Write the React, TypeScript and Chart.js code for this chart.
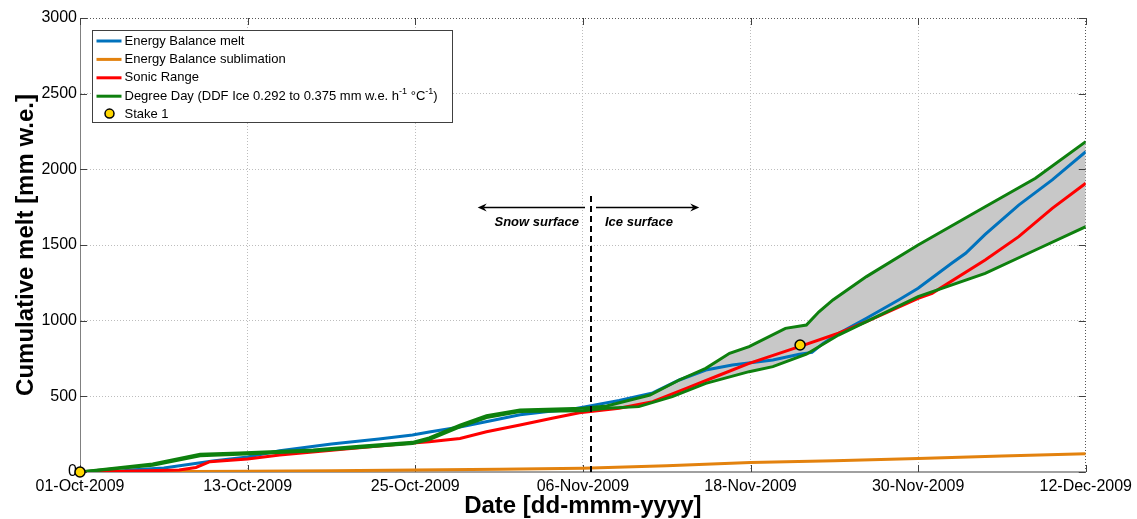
import React, { useEffect, useRef } from "react";
import { Chart, registerables } from "chart.js";
Chart.register(...registerables);

// ---- tick labels ----
const xTickLabels = ["01-Oct-2009", "13-Oct-2009", "25-Oct-2009", "06-Nov-2009", "18-Nov-2009", "30-Nov-2009", "12-Dec-2009"];
const legendLabels = ["Energy Balance melt", "Energy Balance sublimation", "Sonic Range", "Degree Day", "Stake 1"];

// ---- series (x = days since 01-Oct-2009, y = mm w.e.) ----
const ebMeltDays = [0, 2.4, 3.6, 6, 9.5, 12, 14.3, 18, 21.4, 23.8, 25, 27.2, 29.5, 31.5, 33.5, 35, 36.2, 38.6, 41, 42.9, 44.8, 46.7, 49.6, 51.5, 52.4, 53.2, 54.3, 56.3, 58.6, 60, 62.4, 63.4, 64.8, 67.2, 69.6, 72];
const ebMeltValues = [0, 0, 13, 26, 73, 99, 140, 185, 218, 244, 264, 297, 340, 378, 400, 412, 432, 472, 523, 608, 674, 707, 740, 778, 790, 850, 915, 1016, 1137, 1214, 1379, 1445, 1570, 1764, 1930, 2117];

const sublimationDays = [0, 8, 12, 18, 24, 30, 36, 42, 48, 54, 60, 66, 72];
const sublimationValues = [0, 3, 5, 8, 14, 18, 24, 42, 62, 74, 90, 105, 120];

const sonicDays = [0, 4, 7.1, 8.3, 9.3, 12, 14.3, 19, 23.8, 25, 27.2, 29.1, 31.5, 33.8, 35.75, 38.6, 41, 43.4, 45.8, 47.9, 51.5, 54.3, 56.3, 60, 61, 64.8, 67.2, 69.6, 72];
const sonicValues = [0, 6, 13, 30, 68, 86, 112, 152, 191, 200, 222, 266, 311, 355, 392, 421, 465, 553, 641, 718, 828, 917, 993, 1148, 1181, 1401, 1555, 1742, 1908];

const ddHighDays = [0, 5.2, 8.6, 11.4, 16.7, 20, 23.8, 25, 27.2, 29.1, 31.5, 36, 37.7, 40.8, 42.9, 44.8, 46.5, 47.9, 50.5, 52, 52.9, 53.9, 56.3, 60, 64.8, 68.4, 72];
const ddHighValues = [0, 53, 117, 125, 145, 170, 196, 225, 310, 372, 410, 422, 436, 509, 608, 685, 784, 828, 949, 971, 1059, 1137, 1291, 1500, 1753, 1941, 2183];

const ddLowDays = [0, 5.2, 8.6, 11.4, 16.7, 20, 23.8, 25, 27.2, 29.1, 31.5, 36, 37.7, 40, 42.4, 44.8, 47.9, 49.6, 52, 54.3, 60, 64.8, 68.4, 72];
const ddLowValues = [0, 45, 108, 118, 138, 162, 188, 215, 298, 360, 400, 405, 421, 432, 498, 586, 663, 696, 778, 905, 1159, 1313, 1467, 1621];

const stakeDays = [0, 51.55];
const stakeValues = [0, 839];

// ---- annotation anchors (data units) ----
const transitionDay = 36.58;
const transitionTop = 1824;
const arrowLevel = 1749;
const snowArrowEnd = 28.47;
const iceArrowEnd = 44.33;

const FONT = '"Liberation Sans", Arial, Helvetica, sans-serif';
const BLUE = "#0072BD";
const ORANGE = "#E3820E";
const RED = "#FF0000";
const GREEN = "#0E800E";
const YELLOW = "#FFD700";

const pts = (xs: number[], ys: number[]) => xs.map((x, i) => ({ x, y: ys[i] }));

const innerTicks = {
  id: "innerTicks",
  beforeDatasetsDraw(chart: any) {
    const { ctx, chartArea: a, scales } = chart;
    const x = scales.x, y = scales.y;
    const L = 7;
    ctx.save();
    ctx.strokeStyle = "#404040";
    ctx.lineWidth = 1;
    ctx.beginPath();
    for (let v = 0; v <= 72; v += 12) {
      const px = Math.round(x.getPixelForValue(v)) + 0.5;
      ctx.moveTo(px, a.bottom); ctx.lineTo(px, a.bottom - L);
      ctx.moveTo(px, a.top); ctx.lineTo(px, a.top + L);
    }
    for (let v = 0; v <= 3000; v += 500) {
      const py = Math.round(y.getPixelForValue(v)) + 0.5;
      ctx.moveTo(a.left, py); ctx.lineTo(a.left + L, py);
      ctx.moveTo(a.right, py); ctx.lineTo(a.right - L, py);
    }
    ctx.stroke();
    ctx.restore();
  },
};

const arrow = (ctx: any, x0: number, x1: number, y: number) => {
  const dir = x1 > x0 ? 1 : -1;
  ctx.beginPath();
  ctx.moveTo(x0, y);
  ctx.lineTo(x1 - dir * 6, y);
  ctx.stroke();
  ctx.beginPath();
  ctx.moveTo(x1, y);
  ctx.lineTo(x1 - dir * 9, y - 4);
  ctx.lineTo(x1 - dir * 6, y);
  ctx.lineTo(x1 - dir * 9, y + 4);
  ctx.closePath();
  ctx.fill();
};

const surfaceAnnotation = {
  id: "surfaceAnnotation",
  afterDatasetsDraw(chart: any) {
    const { ctx, scales } = chart;
    const x = scales.x, y = scales.y;
    const lx = Math.round(x.getPixelForValue(transitionDay));
    const top = y.getPixelForValue(transitionTop);
    const bottom = y.getPixelForValue(0);
    ctx.save();
    ctx.strokeStyle = "#000";
    ctx.fillStyle = "#000";
    ctx.lineWidth = 2;
    ctx.setLineDash([6, 4]);
    ctx.beginPath();
    ctx.moveTo(lx, top);
    ctx.lineTo(lx, bottom);
    ctx.stroke();
    ctx.setLineDash([]);
    ctx.lineWidth = 1.5;
    const ay = Math.round(y.getPixelForValue(arrowLevel)) + 0.5;
    arrow(ctx, lx - 6, x.getPixelForValue(snowArrowEnd), ay);
    arrow(ctx, lx + 5, x.getPixelForValue(iceArrowEnd), ay);
    ctx.font = `italic bold 13px ${FONT}`;
    ctx.textBaseline = "alphabetic";
    ctx.textAlign = "right";
    ctx.fillText("Snow surface", lx - 12, ay + 18);
    ctx.textAlign = "left";
    ctx.fillText("Ice surface", lx + 14, ay + 18);
    ctx.restore();
  },
};

const boxLegend = {
  id: "boxLegend",
  afterDraw(chart: any) {
    const { ctx, chartArea: a } = chart;
    const bx = a.left + 12.5, by = a.top + 12.5, bw = 360, bh = 92;
    ctx.save();
    ctx.fillStyle = "#fff";
    ctx.fillRect(bx, by, bw, bh);
    ctx.strokeStyle = "#404040";
    ctx.lineWidth = 1;
    ctx.strokeRect(bx, by, bw, bh);
    const colors = [BLUE, ORANGE, RED, GREEN];
    ctx.font = `13px ${FONT}`;
    ctx.textBaseline = "middle";
    ctx.textAlign = "left";
    for (let i = 0; i < 5; i++) {
      const ry = by + 10.5 + i * 18.4;
      if (i < 4) {
        ctx.strokeStyle = colors[i];
        ctx.lineWidth = 3;
        ctx.beginPath();
        ctx.moveTo(bx + 4, ry);
        ctx.lineTo(bx + 29, ry);
        ctx.stroke();
      } else {
        ctx.beginPath();
        ctx.arc(bx + 17, ry - 1, 4.5, 0, Math.PI * 2);
        ctx.fillStyle = YELLOW;
        ctx.fill();
        ctx.strokeStyle = "#000";
        ctx.lineWidth = 1.5;
        ctx.stroke();
      }
      ctx.fillStyle = "#000";
      const tx = bx + 32;
      if (i === 3) {
        const parts: [string, boolean][] = [
          [legendLabels[3] + " (DDF Ice 0.292 to 0.375 mm w.e. h", false],
          ["-1", true],
          [" \u00B0C", false],
          ["-1", true],
          [")", false],
        ];
        let cx = tx;
        for (const [t, sup] of parts) {
          ctx.font = sup ? `9px ${FONT}` : `13px ${FONT}`;
          ctx.fillText(t, cx, sup ? ry - 5 : ry);
          cx += ctx.measureText(t).width;
        }
        ctx.font = `13px ${FONT}`;
      } else {
        ctx.fillText(legendLabels[i], tx, ry);
      }
    }
    ctx.restore();
  },
};

export default function App() {
  const ref = useRef<HTMLCanvasElement | null>(null);
  useEffect(() => {
    document.body.style.margin = "0";
    const canvas = ref.current!;
    const line = (data: any, color: string, order: number, extra: any = {}) => ({
      data,
      borderColor: color,
      backgroundColor: color,
      borderWidth: 3,
      pointRadius: 0,
      fill: false,
      order,
      ...extra,
    });
    const chart = new Chart(canvas, {
      type: "line",
      data: {
        datasets: [
          line(pts(ebMeltDays, ebMeltValues), BLUE, 5),
          line(pts(sublimationDays, sublimationValues), ORANGE, 4),
          line(pts(sonicDays, sonicValues), RED, 3),
          line(pts(ddHighDays, ddHighValues), GREEN, 2, { fill: { target: 4 }, backgroundColor: "#C8C8C8" }),
          line(pts(ddLowDays, ddLowValues), GREEN, 1),
          {
            data: pts(stakeDays, stakeValues),
            showLine: false,
            pointRadius: 5,
            pointBackgroundColor: YELLOW,
            pointBorderColor: "#000",
            pointBorderWidth: 1.5,
            order: 0,
            clip: false,
          } as any,
        ],
      },
      options: {
        responsive: false,
        animation: false,
        devicePixelRatio: 1,
        layout: { padding: { left: 0, right: 50, top: 18, bottom: 0 } },
        plugins: {
          legend: { display: false },
          tooltip: { enabled: false },
          filler: { drawTime: "beforeDatasetsDraw" } as any,
        },
        elements: { line: { tension: 0 } },
        scales: {
          x: {
            type: "linear",
            min: 0,
            max: 72,
            afterFit: (s: any) => { s.height = 47; },
            ticks: {
              stepSize: 12,
              autoSkip: false,
              maxRotation: 0,
              padding: 5,
              color: "#000",
              font: { family: FONT, size: 16 },
              callback: (v: any) => xTickLabels[Math.round(Number(v) / 12)] ?? "",
            },
            grid: {
              drawTicks: false,
              color: (c: any) => (c.tick && c.tick.value === 72 ? "#555" : "#BDBDBD"),
              lineWidth: 1,
            },
            border: { display: true, color: "#A0A0A0", width: 2, dash: [1, 2] },
            title: {
              display: true,
              text: "Date [dd-mmm-yyyy]",
              color: "#000",
              font: { family: FONT, size: 24, weight: "bold", lineHeight: 1 },
              padding: { top: 0, bottom: 1 },
            },
          },
          y: {
            type: "linear",
            min: 0,
            max: 3000,
            afterFit: (s: any) => { s.width = 80; },
            ticks: {
              stepSize: 500,
              padding: 3,
              color: "#000",
              font: { family: FONT, size: 16 },
              callback: (v: any) => String(v),
            },
            grid: {
              drawTicks: false,
              color: (c: any) => (c.tick && c.tick.value === 3000 ? "#555" : "#BDBDBD"),
              lineWidth: 1,
            },
            border: { display: true, color: "#808080", width: 1, dash: [1, 2] },
            title: {
              display: true,
              text: "Cumulative melt [mm w.e.]",
              color: "#000",
              font: { family: FONT, size: 24, weight: "bold", lineHeight: 1 },
              padding: { top: 14, bottom: 0 },
            },
          },
        },
      },
      plugins: [innerTicks, surfaceAnnotation, boxLegend],
    });
    return () => chart.destroy();
  }, []);
  return (
    <div style={{ position: "absolute", left: 0, top: 0, width: 1137, height: 519 }}>
      <canvas ref={ref} width={1137} height={519} />
    </div>
  );
}
